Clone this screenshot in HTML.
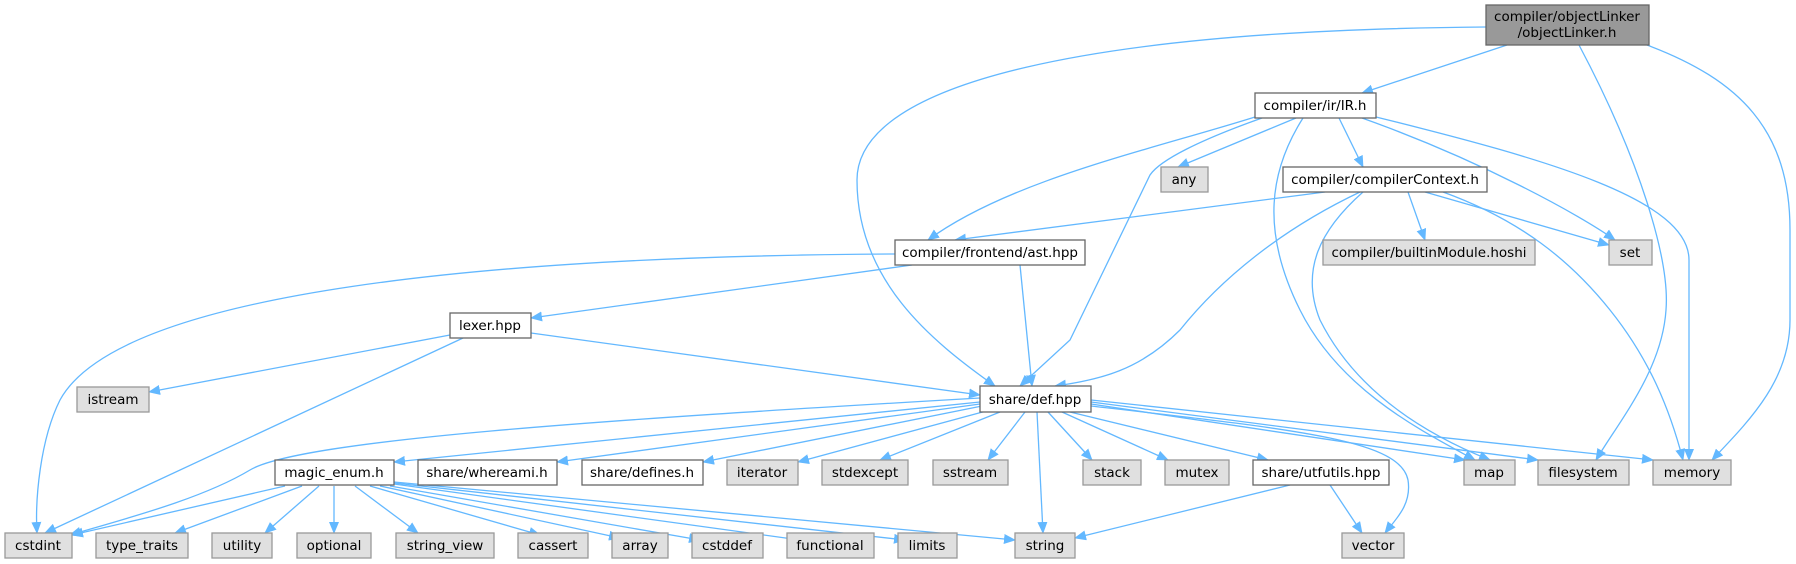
<!DOCTYPE html>
<html><head><meta charset="utf-8"><style>
html,body{margin:0;padding:0;background:#fff;}
svg{display:block;}
text{font-family:"DejaVu Sans","Liberation Sans",sans-serif;font-size:13.5px;fill:#000;text-anchor:middle;}
.e{fill:none;stroke:#63b8ff;stroke-width:1.3;marker-end:url(#a);}
.w{fill:#fff;stroke:#666;stroke-width:1.3;}
.g{fill:#e0e0e0;stroke:#999;stroke-width:1.3;}
.r{fill:#999;stroke:#666;stroke-width:1.3;}
</style></head><body>
<svg width="1796" height="564" viewBox="0 0 1796 564" xmlns="http://www.w3.org/2000/svg">
<defs><marker id="a" markerUnits="userSpaceOnUse" markerWidth="12" markerHeight="10" refX="11" refY="5" orient="auto"><path d="M0,0 L12,5 L0,10 z" fill="#63b8ff"/></marker></defs>
<!-- edges -->
<path class="e" d="M1507,45 L1362,93"/>
<path class="e" d="M1486,27 C1100,30 857,80 857,180 C857,280 930,340 995,386"/>
<path class="e" d="M1579,45 C1640,160 1670,260 1666,310 C1662,370 1620,420 1596,460"/>
<path class="e" d="M1647,45 C1740,80 1790,130 1790,230 L1790,320 C1790,380 1750,420 1712,460"/>
<path class="e" d="M1376,117 C1550,160 1689,200 1689,260 L1689,460"/>
<path class="e" d="M1362,118 C1480,160 1580,215 1615,240"/>
<path class="e" d="M1296,118 L1178,167"/>
<path class="e" d="M1339,118 L1363,167"/>
<path class="e" d="M1255,117 C1150,150 1010,180 928,240"/>
<path class="e" d="M1262,118 C1200,140 1160,160 1150,175 L1070,340 L1020,386"/>
<path class="e" d="M1303,118 C1270,170 1260,230 1300,310 C1340,390 1420,430 1475,460"/>
<path class="e" d="M1325,192 L955,240"/>
<path class="e" d="M1360,192 C1280,230 1220,280 1180,330 C1140,370 1100,380 1055,386"/>
<path class="e" d="M1363,192 C1320,230 1300,270 1320,320 C1360,400 1440,440 1490,460"/>
<path class="e" d="M1408,192 L1425,240"/>
<path class="e" d="M1425,192 L1609,245"/>
<path class="e" d="M1443,192 C1520,220 1570,260 1610,310 C1650,360 1670,410 1683,460"/>
<path class="e" d="M895,254 C500,256 120,290 60,400 C40,440 35,500 37,533"/>
<path class="e" d="M912,265 L531,318"/>
<path class="e" d="M1020,265 L1032,386"/>
<path class="e" d="M450,335 L149,392"/>
<path class="e" d="M463,338 L45,533"/>
<path class="e" d="M531,333 L980,395"/>
<path class="e" d="M980,398 C600,420 300,440 250,470 C200,500 120,520 70,535"/>
<path class="e" d="M980,402 L394,462"/>
<path class="e" d="M980,404 L557,462"/>
<path class="e" d="M982,406 L703,462"/>
<path class="e" d="M990,410 L798,462"/>
<path class="e" d="M1000,412 L880,460"/>
<path class="e" d="M1025,412 L988,460"/>
<path class="e" d="M1037,412 L1043,533"/>
<path class="e" d="M1048,412 L1092,460"/>
<path class="e" d="M1062,412 L1168,460"/>
<path class="e" d="M1070,412 L1268,460"/>
<path class="e" d="M1091,404 L1465,460"/>
<path class="e" d="M1091,402 L1538,460"/>
<path class="e" d="M1091,400 L1653,460"/>
<path class="e" d="M1091,406 C1300,430 1400,440 1408,480 C1412,505 1395,520 1385,533"/>
<path class="e" d="M1290,485 L1075,538"/>
<path class="e" d="M1330,485 L1362,533"/>
<path class="e" d="M285,486 L72,535"/>
<path class="e" d="M302,486 L175,533"/>
<path class="e" d="M319,486 L265,533"/>
<path class="e" d="M334,486 L334,533"/>
<path class="e" d="M355,486 L418,533"/>
<path class="e" d="M370,486 L540,535"/>
<path class="e" d="M380,486 L620,538"/>
<path class="e" d="M390,486 L700,540"/>
<path class="e" d="M394,484 L800,540"/>
<path class="e" d="M394,483 L905,540"/>
<path class="e" d="M394,482 L1015,540"/>
<!-- nodes -->
<rect class="r" x="1486" y="5" width="163" height="40"/><text x="1567" y="21">compiler/objectLinker</text><text x="1567" y="37">/objectLinker.h</text>
<rect class="w" x="1255" y="93" width="121" height="25"/><text x="1315" y="110">compiler/ir/IR.h</text>
<rect class="g" x="1161" y="167" width="47" height="25"/><text x="1184" y="184">any</text>
<rect class="w" x="1283" y="167" width="204" height="25"/><text x="1385" y="184">compiler/compilerContext.h</text>
<rect class="w" x="895" y="240" width="190" height="25"/><text x="990" y="257">compiler/frontend/ast.hpp</text>
<rect class="g" x="1323" y="240" width="212" height="25"/><text x="1429" y="257">compiler/builtinModule.hoshi</text>
<rect class="g" x="1609" y="240" width="43" height="25"/><text x="1630" y="257">set</text>
<rect class="w" x="450" y="313" width="81" height="25"/><text x="490" y="330">lexer.hpp</text>
<rect class="g" x="77" y="387" width="72" height="25"/><text x="113" y="404">istream</text>
<rect class="w" x="980" y="386" width="111" height="26"/><text x="1035" y="404">share/def.hpp</text>
<rect class="w" x="275" y="460" width="119" height="25"/><text x="334" y="477">magic_enum.h</text>
<rect class="w" x="418" y="460" width="139" height="25"/><text x="487" y="477">share/whereami.h</text>
<rect class="w" x="582" y="460" width="121" height="25"/><text x="642" y="477">share/defines.h</text>
<rect class="g" x="727" y="460" width="71" height="25"/><text x="762" y="477">iterator</text>
<rect class="g" x="822" y="460" width="86" height="25"/><text x="865" y="477">stdexcept</text>
<rect class="g" x="933" y="460" width="75" height="25"/><text x="970" y="477">sstream</text>
<rect class="g" x="1083" y="460" width="58" height="25"/><text x="1112" y="477">stack</text>
<rect class="g" x="1165" y="460" width="64" height="25"/><text x="1197" y="477">mutex</text>
<rect class="w" x="1253" y="460" width="136" height="25"/><text x="1321" y="477">share/utfutils.hpp</text>
<rect class="g" x="1464" y="460" width="51" height="25"/><text x="1489" y="477">map</text>
<rect class="g" x="1538" y="460" width="91" height="25"/><text x="1583" y="477">filesystem</text>
<rect class="g" x="1653" y="460" width="78" height="25"/><text x="1692" y="477">memory</text>
<rect class="g" x="5" y="533" width="67" height="25"/><text x="38" y="550">cstdint</text>
<rect class="g" x="96" y="533" width="92" height="25"/><text x="142" y="550">type_traits</text>
<rect class="g" x="212" y="533" width="60" height="25"/><text x="242" y="550">utility</text>
<rect class="g" x="297" y="533" width="74" height="25"/><text x="334" y="550">optional</text>
<rect class="g" x="396" y="533" width="98" height="25"/><text x="445" y="550">string_view</text>
<rect class="g" x="518" y="533" width="70" height="25"/><text x="553" y="550">cassert</text>
<rect class="g" x="612" y="533" width="56" height="25"/><text x="640" y="550">array</text>
<rect class="g" x="692" y="533" width="71" height="25"/><text x="727" y="550">cstddef</text>
<rect class="g" x="787" y="533" width="87" height="25"/><text x="830" y="550">functional</text>
<rect class="g" x="898" y="533" width="59" height="25"/><text x="927" y="550">limits</text>
<rect class="g" x="1015" y="533" width="60" height="25"/><text x="1045" y="550">string</text>
<rect class="g" x="1342" y="533" width="62" height="25"/><text x="1373" y="550">vector</text>
</svg>
</body></html>
